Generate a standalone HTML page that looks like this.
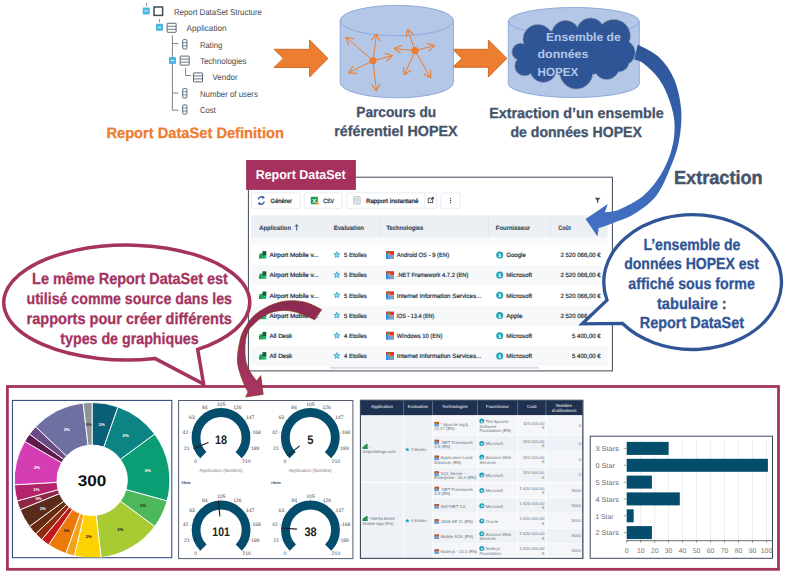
<!DOCTYPE html><html><head><meta charset="utf-8"><style>
html,body{margin:0;padding:0;background:#fff;}
body{width:785px;height:576px;overflow:hidden;position:relative;}
svg{position:absolute;left:0;top:0;font-family:"Liberation Sans",sans-serif;text-rendering:geometricPrecision;}
</style></head><body>
<svg width="785" height="576" viewBox="0 0 785 576">
<defs>
<linearGradient id="bluearr" x1="0" y1="44" x2="0" y2="236" gradientUnits="userSpaceOnUse">
<stop offset="0" stop-color="#2F5597"/><stop offset="0.55" stop-color="#3863B3"/><stop offset="1" stop-color="#4472C4"/></linearGradient>
<linearGradient id="marr" x1="0" y1="300" x2="0" y2="397" gradientUnits="userSpaceOnUse">
<stop offset="0" stop-color="#8C2A52"/><stop offset="1" stop-color="#A83562"/></linearGradient>
<linearGradient id="appg" x1="0" y1="0" x2="1" y2="0"><stop offset="0" stop-color="#129A36"/><stop offset="1" stop-color="#2FC29A"/></linearGradient>
</defs>

<line x1="146.5" y1="3" x2="146.5" y2="6" stroke="#6a7580" stroke-width="0.8"/>
<rect x="142.7" y="7.4" width="7" height="7" rx="1" fill="#4BB6E3"/>
<rect x="144.5" y="10.5" width="3.4" height="0.9" fill="#fff"/>
<rect x="154" y="7" width="8.6" height="8.4" fill="none" stroke="#3D4A57" stroke-width="1.5"/>
<line x1="159.5" y1="19" x2="159.5" y2="22.3" stroke="#6a7580" stroke-width="0.8"/>
<rect x="156" y="23.8" width="7" height="7" rx="1" fill="#4BB6E3"/>
<rect x="157.8" y="26.900000000000002" width="3.4" height="0.9" fill="#fff"/>
<rect x="167.1" y="23.3" width="9" height="9" rx="0.4" fill="none" stroke="#5B6B7B" stroke-width="1"/>
<line x1="167.1" y1="26.3" x2="176.1" y2="26.3" stroke="#5B6B7B" stroke-width="0.9"/>
<line x1="167.1" y1="29.3" x2="176.1" y2="29.3" stroke="#5B6B7B" stroke-width="0.9"/>
<path d="M172.4,35.3 V110.2 H178.3" fill="none" stroke="#6a7580" stroke-width="0.9"/>
<line x1="172.4" y1="43.6" x2="178.3" y2="43.6" stroke="#6a7580" stroke-width="0.9"/>
<line x1="172.4" y1="93" x2="178.3" y2="93" stroke="#6a7580" stroke-width="0.9"/>
<rect x="182.7" y="39.6" width="4.2" height="9.4" rx="1" fill="none" stroke="#5B6B7B" stroke-width="1"/>
<line x1="182.7" y1="42.730000000000004" x2="186.89999999999998" y2="42.730000000000004" stroke="#5B6B7B" stroke-width="0.8"/>
<line x1="182.7" y1="45.86" x2="186.89999999999998" y2="45.86" stroke="#5B6B7B" stroke-width="0.8"/>
<rect x="169" y="57.1" width="7" height="7" rx="1" fill="#4BB6E3"/>
<rect x="170.8" y="60.2" width="3.4" height="0.9" fill="#fff"/>
<rect x="180.2" y="56.1" width="9" height="9" rx="0.4" fill="none" stroke="#5B6B7B" stroke-width="1"/>
<line x1="180.2" y1="59.1" x2="189.2" y2="59.1" stroke="#5B6B7B" stroke-width="0.9"/>
<line x1="180.2" y1="62.1" x2="189.2" y2="62.1" stroke="#5B6B7B" stroke-width="0.9"/>
<path d="M185.6,68.2 V75.5 H190.8" fill="none" stroke="#6a7580" stroke-width="0.9"/>
<rect x="193.5" y="72.9" width="9" height="9" rx="0.4" fill="none" stroke="#5B6B7B" stroke-width="1"/>
<line x1="193.5" y1="75.9" x2="202.5" y2="75.9" stroke="#5B6B7B" stroke-width="0.9"/>
<line x1="193.5" y1="78.9" x2="202.5" y2="78.9" stroke="#5B6B7B" stroke-width="0.9"/>
<rect x="182.7" y="88.6" width="4.2" height="9.4" rx="1" fill="none" stroke="#5B6B7B" stroke-width="1"/>
<line x1="182.7" y1="91.72999999999999" x2="186.89999999999998" y2="91.72999999999999" stroke="#5B6B7B" stroke-width="0.8"/>
<line x1="182.7" y1="94.86" x2="186.89999999999998" y2="94.86" stroke="#5B6B7B" stroke-width="0.8"/>
<rect x="182.7" y="104.8" width="4.2" height="9.4" rx="1" fill="none" stroke="#5B6B7B" stroke-width="1"/>
<line x1="182.7" y1="107.92999999999999" x2="186.89999999999998" y2="107.92999999999999" stroke="#5B6B7B" stroke-width="0.8"/>
<line x1="182.7" y1="111.06" x2="186.89999999999998" y2="111.06" stroke="#5B6B7B" stroke-width="0.8"/>
<text x="173.9" y="14.5" font-size="8.5" fill="#45494f" font-weight="normal" text-anchor="start" textLength="88.0" lengthAdjust="spacingAndGlyphs">Report DataSet Structure</text>
<text x="186.6" y="30.6" font-size="8.5" fill="#45494f" font-weight="normal" text-anchor="start" textLength="40.0" lengthAdjust="spacingAndGlyphs">Application</text>
<text x="199.9" y="47.5" font-size="8.5" fill="#45494f" font-weight="normal" text-anchor="start" textLength="22.5" lengthAdjust="spacingAndGlyphs">Rating</text>
<text x="199.9" y="63.7" font-size="8.5" fill="#45494f" font-weight="normal" text-anchor="start" textLength="46.6" lengthAdjust="spacingAndGlyphs">Technologies</text>
<text x="212.5" y="80.2" font-size="8.5" fill="#45494f" font-weight="normal" text-anchor="start" textLength="25.2" lengthAdjust="spacingAndGlyphs">Vendor</text>
<text x="199.9" y="96.9" font-size="8.5" fill="#45494f" font-weight="normal" text-anchor="start" textLength="58.0" lengthAdjust="spacingAndGlyphs">Number of users</text>
<text x="199.9" y="113.1" font-size="8.5" fill="#45494f" font-weight="normal" text-anchor="start" textLength="15.8" lengthAdjust="spacingAndGlyphs">Cost</text>
<text x="106.4" y="138.0" font-size="15" fill="#ED7D31" font-weight="bold" text-anchor="start" textLength="177.6" lengthAdjust="spacingAndGlyphs" stroke="#ED7D31" stroke-width="0.3">Report DataSet Definition</text>
<path d="M274,49.3 L309.6,49.3 L309.6,40 L328,58.4 L309.6,77 L309.6,67.5 L274,67.5 L283.3,58.4 Z" fill="#ED7D31" stroke="#C55A11" stroke-width="0.8" stroke-linejoin="miter"/>
<path d="M452.7,49.3 L488.4,49.3 L488.4,40 L506.9,58.4 L488.4,77 L488.4,67.3 L452.7,67.3 L461.9,58.4 Z" fill="#ED7D31" stroke="#C55A11" stroke-width="0.8" stroke-linejoin="miter"/>
<path d="M340.2,20.6 A56.6,15.2 0 0 1 453.40000000000003,20.6 L453.40000000000003,82.6 A56.6,15.2 0 0 1 340.2,82.6 Z" fill="#B4C7E7" stroke="#8FAADC" stroke-width="1"/>
<path d="M340.2,20.6 A56.6,15.2 0 0 0 453.40000000000003,20.6" fill="none" stroke="#8FAADC" stroke-width="1"/>
<path d="M508.29999999999995,21.3 A65.5,13.8 0 0 1 639.3,21.3 L639.3,83.7 A65.5,13.8 0 0 1 508.29999999999995,83.7 Z" fill="#B4C7E7" stroke="#8FAADC" stroke-width="1"/>
<path d="M508.29999999999995,21.3 A65.5,13.8 0 0 0 639.3,21.3" fill="none" stroke="#8FAADC" stroke-width="1"/>
<circle cx="373" cy="60.7" r="3.6" fill="#ED7D31"/>
<line x1="373" y1="60.7" x2="346" y2="37.3" stroke="#ED7D31" stroke-width="1.0"/>
<line x1="346" y1="37.3" x2="353.9" y2="38.8" stroke="#ED7D31" stroke-width="1.1"/>
<line x1="346" y1="37.3" x2="348.6" y2="44.9" stroke="#ED7D31" stroke-width="1.1"/>
<line x1="373" y1="60.7" x2="376.5" y2="33.8" stroke="#ED7D31" stroke-width="1.0"/>
<line x1="376.5" y1="33.8" x2="379.6" y2="41.2" stroke="#ED7D31" stroke-width="1.1"/>
<line x1="376.5" y1="33.8" x2="371.7" y2="40.2" stroke="#ED7D31" stroke-width="1.1"/>
<line x1="373" y1="60.7" x2="392.5" y2="55.5" stroke="#ED7D31" stroke-width="1.0"/>
<line x1="392.5" y1="55.5" x2="386.8" y2="61.1" stroke="#ED7D31" stroke-width="1.1"/>
<line x1="392.5" y1="55.5" x2="384.8" y2="53.4" stroke="#ED7D31" stroke-width="1.1"/>
<line x1="373" y1="60.7" x2="348.7" y2="72.9" stroke="#ED7D31" stroke-width="1.0"/>
<line x1="348.7" y1="72.9" x2="353.1" y2="66.2" stroke="#ED7D31" stroke-width="1.1"/>
<line x1="348.7" y1="72.9" x2="356.7" y2="73.4" stroke="#ED7D31" stroke-width="1.1"/>
<line x1="373" y1="60.7" x2="376.5" y2="91.1" stroke="#ED7D31" stroke-width="1.0"/>
<line x1="376.5" y1="91.1" x2="371.7" y2="84.7" stroke="#ED7D31" stroke-width="1.1"/>
<line x1="376.5" y1="91.1" x2="379.7" y2="83.8" stroke="#ED7D31" stroke-width="1.1"/>
<circle cx="415" cy="50.7" r="3.6" fill="#ED7D31"/>
<line x1="415" y1="50.7" x2="407.6" y2="29.2" stroke="#ED7D31" stroke-width="1.0"/>
<line x1="407.6" y1="29.2" x2="413.6" y2="34.5" stroke="#ED7D31" stroke-width="1.1"/>
<line x1="407.6" y1="29.2" x2="406.1" y2="37.1" stroke="#ED7D31" stroke-width="1.1"/>
<line x1="415" y1="50.7" x2="394.2" y2="48.6" stroke="#ED7D31" stroke-width="1.0"/>
<line x1="394.2" y1="48.6" x2="401.5" y2="45.3" stroke="#ED7D31" stroke-width="1.1"/>
<line x1="394.2" y1="48.6" x2="400.7" y2="53.3" stroke="#ED7D31" stroke-width="1.1"/>
<line x1="415" y1="50.7" x2="434.6" y2="45.5" stroke="#ED7D31" stroke-width="1.0"/>
<line x1="434.6" y1="45.5" x2="428.9" y2="51.1" stroke="#ED7D31" stroke-width="1.1"/>
<line x1="434.6" y1="45.5" x2="426.9" y2="43.4" stroke="#ED7D31" stroke-width="1.1"/>
<line x1="415" y1="50.7" x2="404.3" y2="75" stroke="#ED7D31" stroke-width="1.0"/>
<line x1="404.3" y1="75" x2="403.4" y2="67.0" stroke="#ED7D31" stroke-width="1.1"/>
<line x1="404.3" y1="75" x2="410.7" y2="70.3" stroke="#ED7D31" stroke-width="1.1"/>
<line x1="415" y1="50.7" x2="430.7" y2="78.1" stroke="#ED7D31" stroke-width="1.0"/>
<line x1="430.7" y1="78.1" x2="423.8" y2="74.1" stroke="#ED7D31" stroke-width="1.1"/>
<line x1="430.7" y1="78.1" x2="430.7" y2="70.1" stroke="#ED7D31" stroke-width="1.1"/>
<ellipse cx="575" cy="52" rx="50" ry="24" fill="#2F5597" stroke="#8d9bb3" stroke-width="1"/>
<ellipse cx="538" cy="39.4" rx="15" ry="15" fill="#2F5597" stroke="#8d9bb3" stroke-width="1"/>
<ellipse cx="565.6" cy="34.5" rx="14" ry="14" fill="#2F5597" stroke="#8d9bb3" stroke-width="1"/>
<ellipse cx="590.6" cy="32" rx="14" ry="14" fill="#2F5597" stroke="#8d9bb3" stroke-width="1"/>
<ellipse cx="613.8" cy="36" rx="16.5" ry="16.5" fill="#2F5597" stroke="#8d9bb3" stroke-width="1"/>
<ellipse cx="622.7" cy="52.8" rx="12.5" ry="12.5" fill="#2F5597" stroke="#8d9bb3" stroke-width="1"/>
<ellipse cx="618" cy="62" rx="11" ry="10" fill="#2F5597" stroke="#8d9bb3" stroke-width="1"/>
<ellipse cx="606.7" cy="67" rx="12.5" ry="12.5" fill="#2F5597" stroke="#8d9bb3" stroke-width="1"/>
<ellipse cx="576.3" cy="72.4" rx="16.5" ry="16.5" fill="#2F5597" stroke="#8d9bb3" stroke-width="1"/>
<ellipse cx="543.3" cy="68.9" rx="13.4" ry="13.4" fill="#2F5597" stroke="#8d9bb3" stroke-width="1"/>
<ellipse cx="524.6" cy="66" rx="9.8" ry="9.8" fill="#2F5597" stroke="#8d9bb3" stroke-width="1"/>
<ellipse cx="520.6" cy="51.9" rx="8.6" ry="8.6" fill="#2F5597" stroke="#8d9bb3" stroke-width="1"/>
<ellipse cx="575" cy="52" rx="49.5" ry="23.5" fill="#2F5597"/>
<ellipse cx="538" cy="39.4" rx="14.5" ry="14.5" fill="#2F5597"/>
<ellipse cx="565.6" cy="34.5" rx="13.5" ry="13.5" fill="#2F5597"/>
<ellipse cx="590.6" cy="32" rx="13.5" ry="13.5" fill="#2F5597"/>
<ellipse cx="613.8" cy="36" rx="16.0" ry="16.0" fill="#2F5597"/>
<ellipse cx="622.7" cy="52.8" rx="12.0" ry="12.0" fill="#2F5597"/>
<ellipse cx="618" cy="62" rx="10.5" ry="9.5" fill="#2F5597"/>
<ellipse cx="606.7" cy="67" rx="12.0" ry="12.0" fill="#2F5597"/>
<ellipse cx="576.3" cy="72.4" rx="16.0" ry="16.0" fill="#2F5597"/>
<ellipse cx="543.3" cy="68.9" rx="12.9" ry="12.9" fill="#2F5597"/>
<ellipse cx="524.6" cy="66" rx="9.3" ry="9.3" fill="#2F5597"/>
<ellipse cx="520.6" cy="51.9" rx="8.1" ry="8.1" fill="#2F5597"/>
<text x="545.9" y="41.1" font-size="11.8" fill="#B4C7E7" font-weight="bold" text-anchor="start" textLength="74.9" lengthAdjust="spacingAndGlyphs">Ensemble de</text>
<text x="537.6" y="58.3" font-size="11.8" fill="#B4C7E7" font-weight="bold" text-anchor="start" textLength="50.7" lengthAdjust="spacingAndGlyphs">données</text>
<text x="537.6" y="75.5" font-size="11.8" fill="#B4C7E7" font-weight="bold" text-anchor="start" textLength="40.7" lengthAdjust="spacingAndGlyphs">HOPEX</text>
<text x="356.3" y="116.8" font-size="14.6" fill="#44546A" font-weight="bold" text-anchor="start" textLength="79.9" lengthAdjust="spacingAndGlyphs" stroke="#44546A" stroke-width="0.3">Parcours du</text>
<text x="334.3" y="136.4" font-size="14.6" fill="#44546A" font-weight="bold" text-anchor="start" textLength="123.3" lengthAdjust="spacingAndGlyphs" stroke="#44546A" stroke-width="0.3">référentiel HOPEX</text>
<text x="489.2" y="117.6" font-size="14.6" fill="#44546A" font-weight="bold" text-anchor="start" textLength="174.5" lengthAdjust="spacingAndGlyphs" stroke="#44546A" stroke-width="0.3">Extraction d’un ensemble</text>
<text x="510.5" y="137.2" font-size="14.6" fill="#44546A" font-weight="bold" text-anchor="start" textLength="131.3" lengthAdjust="spacingAndGlyphs" stroke="#44546A" stroke-width="0.3">de données HOPEX</text>
<text x="674.0" y="183.6" font-size="19" fill="#44546A" font-weight="bold" text-anchor="start" textLength="88.7" lengthAdjust="spacingAndGlyphs" stroke="#44546A" stroke-width="0.45">Extraction</text>
<rect x="248.4" y="177.2" width="364" height="193.7" fill="#fff" stroke="#3F4A57" stroke-width="1"/>
<rect x="246.1" y="160" width="109.8" height="29.9" fill="#A6315E"/>
<text x="255.7" y="179.3" font-size="12.9" fill="#fff" font-weight="bold" text-anchor="start" textLength="90.0" lengthAdjust="spacingAndGlyphs">Report DataSet</text>
<rect x="251.5" y="192.8" width="48.89999999999998" height="15.5" rx="2" fill="#fff" stroke="#E2E7F0" stroke-width="0.8"/>
<rect x="304.2" y="192.8" width="37.900000000000034" height="15.5" rx="2" fill="#fff" stroke="#E2E7F0" stroke-width="0.8"/>
<rect x="346.6" y="192.8" width="90.09999999999997" height="15.5" rx="2" fill="#fff" stroke="#E2E7F0" stroke-width="0.8"/>
<rect x="440.8" y="192.8" width="19.599999999999966" height="15.5" rx="2" fill="#fff" stroke="#E2E7F0" stroke-width="0.8"/>
<line x1="424.7" y1="192.8" x2="424.7" y2="208.3" stroke="#E2E7F0" stroke-width="0.8"/>
<path d="M258.3,199.5 C258.8,196.8 262,196 263.8,197.6" fill="none" stroke="#2A4FA8" stroke-width="1.3"/><path d="M264.3,201.5 C263.8,204.2 260.6,205 258.8,203.4" fill="none" stroke="#2A4FA8" stroke-width="1.3"/>
<path d="M262.6,196.2 L265,197.8 L262.4,199 Z" fill="#2A4FA8"/><path d="M260,204.8 L257.6,203.2 L260.2,202 Z" fill="#2A4FA8"/>
<text x="270.6" y="202.6" font-size="6.2" fill="#1F2A36" font-weight="normal" text-anchor="start" textLength="21.4" lengthAdjust="spacingAndGlyphs" stroke="#1F2A36" stroke-width="0.25">Générer</text>
<rect x="310.8" y="196.8" width="7" height="7.5" rx="0.8" fill="#1E9E4A"/><text x="312.3" y="202.9" font-size="6" fill="#fff" font-weight="bold">X</text><rect x="316" y="202" width="2.6" height="2.6" fill="#F2A33A"/>
<text x="323.3" y="202.6" font-size="6.2" fill="#1F2A36" font-weight="normal" text-anchor="start" textLength="10.7" lengthAdjust="spacingAndGlyphs" stroke="#1F2A36" stroke-width="0.25">CSV</text>
<rect x="353.6" y="196.6" width="6.6" height="7.6" rx="0.8" fill="#E8EAEE" stroke="#A9B0B8" stroke-width="0.7"/><line x1="355" y1="199" x2="359" y2="199" stroke="#9aa" stroke-width="0.5"/><line x1="355" y1="201" x2="359" y2="201" stroke="#9aa" stroke-width="0.5"/>
<text x="365.9" y="202.6" font-size="6.2" fill="#1F2A36" font-weight="normal" text-anchor="start" textLength="52.6" lengthAdjust="spacingAndGlyphs" stroke="#1F2A36" stroke-width="0.25">Rapport instantané</text>
<rect x="428.2" y="198.2" width="4.5" height="4.5" fill="none" stroke="#333d48" stroke-width="0.8"/><path d="M430.5,200.4 L433.5,197.4 M431.8,197.4 H433.5 V199.1" stroke="#333d48" stroke-width="0.8" fill="none"/>
<circle cx="450.6" cy="198.3" r="0.65" fill="#333d48"/>
<circle cx="450.6" cy="200.5" r="0.65" fill="#333d48"/>
<circle cx="450.6" cy="202.7" r="0.65" fill="#333d48"/>
<path d="M594.8,197.8 H600.4 L598.3,200.6 V203 L596.9,202.3 V200.6 Z" fill="#4a545e"/>
<rect x="251.2" y="215.3" width="356.3" height="22.3" fill="#ECEFF3"/>
<line x1="379.6" y1="215.3" x2="379.6" y2="237.6" stroke="#E1E5EA" stroke-width="1"/>
<line x1="488.7" y1="215.3" x2="488.7" y2="237.6" stroke="#E1E5EA" stroke-width="1"/>
<line x1="550.4" y1="215.3" x2="550.4" y2="237.6" stroke="#E1E5EA" stroke-width="1"/>
<rect x="251.2" y="237.6" width="356.3" height="7.2" fill="#F8F9FB"/>
<text x="259.3" y="229.6" font-size="6.3" fill="#3A4654" font-weight="bold" text-anchor="start" textLength="31.7" lengthAdjust="spacingAndGlyphs" stroke="#3A4654" stroke-width="0.12">Application</text>
<path d="M296.7,224.8 V230.6 M295,226.6 L296.7,224.6 L298.4,226.6" stroke="#3A4654" stroke-width="0.9" fill="none"/>
<text x="333.8" y="229.6" font-size="6.3" fill="#3A4654" font-weight="bold" text-anchor="start" textLength="30.2" lengthAdjust="spacingAndGlyphs" stroke="#3A4654" stroke-width="0.12">Evaluation</text>
<text x="386.4" y="229.6" font-size="6.3" fill="#3A4654" font-weight="bold" text-anchor="start" textLength="36.9" lengthAdjust="spacingAndGlyphs" stroke="#3A4654" stroke-width="0.12">Technologies</text>
<text x="495.8" y="229.6" font-size="6.3" fill="#3A4654" font-weight="bold" text-anchor="start" textLength="34.3" lengthAdjust="spacingAndGlyphs" stroke="#3A4654" stroke-width="0.12">Fournisseur</text>
<text x="558.3" y="229.6" font-size="6.3" fill="#3A4654" font-weight="bold" text-anchor="start" textLength="12.4" lengthAdjust="spacingAndGlyphs" stroke="#3A4654" stroke-width="0.12">Coût</text>
<rect x="259" y="255.1" width="7.3" height="3.5" fill="url(#appg)"/><rect x="259.6" y="253.4" width="3.2" height="2" fill="#16A04A"/><rect x="262.5" y="251.1" width="3.8" height="4.3" fill="#0F5F3C"/>
<text x="269.6" y="257.2" font-size="6.2" fill="#2B3440" font-weight="normal" text-anchor="start" textLength="48.9" lengthAdjust="spacingAndGlyphs" stroke="#2B3440" stroke-width="0.24">Airport Mobile v...</text>
<polygon points="336.90,251.60 337.72,253.67 339.94,253.81 338.23,255.23 338.78,257.39 336.90,256.20 335.02,257.39 335.57,255.23 333.86,253.81 336.08,253.67" fill="#9ad9ee" stroke="#1E9BC4" stroke-width="0.7"/>
<text x="344.0" y="257.2" font-size="6.2" fill="#2E3A48" font-weight="normal" text-anchor="start" textLength="22.8" lengthAdjust="spacingAndGlyphs" stroke="#2E3A48" stroke-width="0.22">5 Etoiles</text>
<rect x="386" y="251.0" width="8" height="3.9" fill="#F03030"/><rect x="388.3" y="251.0" width="1.9" height="2.1" fill="#1DA83A"/><rect x="388.3" y="253.1" width="1.9" height="1.9" fill="#F2A900"/><rect x="386" y="253.1" width="2.3" height="5.9" fill="#2F8EF0"/><rect x="388.3" y="255.0" width="1.9" height="4" fill="#3A95F2"/><rect x="390.2" y="255.0" width="3.8" height="4" fill="#7E9CBA"/>
<text x="396.8" y="257.2" font-size="6.2" fill="#2E3A48" font-weight="normal" text-anchor="start" textLength="52.3" lengthAdjust="spacingAndGlyphs" stroke="#2E3A48" stroke-width="0.22">Android OS - 9 (EN)</text>
<circle cx="499.7" cy="254.9" r="3.5" fill="#1AA3B8"/><text x="499.7" y="256.9" font-size="5" fill="#fff" font-weight="bold" text-anchor="middle">$</text>
<text x="506.3" y="257.2" font-size="6.2" fill="#2E3A48" font-weight="normal" text-anchor="start" textLength="19.5" lengthAdjust="spacingAndGlyphs" stroke="#2E3A48" stroke-width="0.22">Google</text>
<text x="600.7" y="257.2" font-size="6.2" fill="#2E3A48" font-weight="normal" text-anchor="end" textLength="40.3" lengthAdjust="spacingAndGlyphs" stroke="#2E3A48" stroke-width="0.22">2 520 066,00 €</text>
<rect x="251.2" y="265.0" width="356.3" height="20.2" fill="#F7F8FA"/>
<rect x="259" y="275.3" width="7.3" height="3.5" fill="url(#appg)"/><rect x="259.6" y="273.6" width="3.2" height="2" fill="#16A04A"/><rect x="262.5" y="271.3" width="3.8" height="4.3" fill="#0F5F3C"/>
<text x="269.6" y="277.4" font-size="6.2" fill="#2B3440" font-weight="normal" text-anchor="start" textLength="48.9" lengthAdjust="spacingAndGlyphs" stroke="#2B3440" stroke-width="0.24">Airport Mobile v...</text>
<polygon points="336.90,271.80 337.72,273.87 339.94,274.01 338.23,275.43 338.78,277.59 336.90,276.40 335.02,277.59 335.57,275.43 333.86,274.01 336.08,273.87" fill="#9ad9ee" stroke="#1E9BC4" stroke-width="0.7"/>
<text x="344.0" y="277.4" font-size="6.2" fill="#2E3A48" font-weight="normal" text-anchor="start" textLength="22.8" lengthAdjust="spacingAndGlyphs" stroke="#2E3A48" stroke-width="0.22">5 Etoiles</text>
<rect x="386" y="271.2" width="8" height="3.9" fill="#F03030"/><rect x="388.3" y="271.2" width="1.9" height="2.1" fill="#1DA83A"/><rect x="388.3" y="273.3" width="1.9" height="1.9" fill="#F2A900"/><rect x="386" y="273.3" width="2.3" height="5.9" fill="#2F8EF0"/><rect x="388.3" y="275.2" width="1.9" height="4" fill="#3A95F2"/><rect x="390.2" y="275.2" width="3.8" height="4" fill="#7E9CBA"/>
<text x="396.8" y="277.4" font-size="6.2" fill="#2E3A48" font-weight="normal" text-anchor="start" textLength="71.6" lengthAdjust="spacingAndGlyphs" stroke="#2E3A48" stroke-width="0.22">.NET Framework 4.7.2 (EN)</text>
<circle cx="499.7" cy="275.1" r="3.5" fill="#1AA3B8"/><text x="499.7" y="277.1" font-size="5" fill="#fff" font-weight="bold" text-anchor="middle">$</text>
<text x="506.3" y="277.4" font-size="6.2" fill="#2E3A48" font-weight="normal" text-anchor="start" textLength="25.7" lengthAdjust="spacingAndGlyphs" stroke="#2E3A48" stroke-width="0.22">Microsoft</text>
<text x="600.7" y="277.4" font-size="6.2" fill="#2E3A48" font-weight="normal" text-anchor="end" textLength="40.3" lengthAdjust="spacingAndGlyphs" stroke="#2E3A48" stroke-width="0.22">2 520 066,00 €</text>
<rect x="259" y="295.5" width="7.3" height="3.5" fill="url(#appg)"/><rect x="259.6" y="293.8" width="3.2" height="2" fill="#16A04A"/><rect x="262.5" y="291.5" width="3.8" height="4.3" fill="#0F5F3C"/>
<text x="269.6" y="297.6" font-size="6.2" fill="#2B3440" font-weight="normal" text-anchor="start" textLength="48.9" lengthAdjust="spacingAndGlyphs" stroke="#2B3440" stroke-width="0.24">Airport Mobile v...</text>
<polygon points="336.90,292.00 337.72,294.07 339.94,294.21 338.23,295.63 338.78,297.79 336.90,296.60 335.02,297.79 335.57,295.63 333.86,294.21 336.08,294.07" fill="#9ad9ee" stroke="#1E9BC4" stroke-width="0.7"/>
<text x="344.0" y="297.6" font-size="6.2" fill="#2E3A48" font-weight="normal" text-anchor="start" textLength="22.8" lengthAdjust="spacingAndGlyphs" stroke="#2E3A48" stroke-width="0.22">5 Etoiles</text>
<rect x="386" y="291.4" width="8" height="3.9" fill="#F03030"/><rect x="388.3" y="291.4" width="1.9" height="2.1" fill="#1DA83A"/><rect x="388.3" y="293.5" width="1.9" height="1.9" fill="#F2A900"/><rect x="386" y="293.5" width="2.3" height="5.9" fill="#2F8EF0"/><rect x="388.3" y="295.4" width="1.9" height="4" fill="#3A95F2"/><rect x="390.2" y="295.4" width="3.8" height="4" fill="#7E9CBA"/>
<text x="396.8" y="297.6" font-size="6.2" fill="#2E3A48" font-weight="normal" text-anchor="start" textLength="84.4" lengthAdjust="spacingAndGlyphs" stroke="#2E3A48" stroke-width="0.22">Internet Information Services...</text>
<circle cx="499.7" cy="295.3" r="3.5" fill="#1AA3B8"/><text x="499.7" y="297.3" font-size="5" fill="#fff" font-weight="bold" text-anchor="middle">$</text>
<text x="506.3" y="297.6" font-size="6.2" fill="#2E3A48" font-weight="normal" text-anchor="start" textLength="25.7" lengthAdjust="spacingAndGlyphs" stroke="#2E3A48" stroke-width="0.22">Microsoft</text>
<text x="600.7" y="297.6" font-size="6.2" fill="#2E3A48" font-weight="normal" text-anchor="end" textLength="40.3" lengthAdjust="spacingAndGlyphs" stroke="#2E3A48" stroke-width="0.22">2 520 066,00 €</text>
<rect x="251.2" y="305.4" width="356.3" height="20.2" fill="#F7F8FA"/>
<rect x="259" y="315.7" width="7.3" height="3.5" fill="url(#appg)"/><rect x="259.6" y="314.0" width="3.2" height="2" fill="#16A04A"/><rect x="262.5" y="311.7" width="3.8" height="4.3" fill="#0F5F3C"/>
<text x="269.6" y="317.8" font-size="6.2" fill="#2B3440" font-weight="normal" text-anchor="start" textLength="48.9" lengthAdjust="spacingAndGlyphs" stroke="#2B3440" stroke-width="0.24">Airport Mobile v...</text>
<polygon points="336.90,312.20 337.72,314.27 339.94,314.41 338.23,315.83 338.78,317.99 336.90,316.80 335.02,317.99 335.57,315.83 333.86,314.41 336.08,314.27" fill="#9ad9ee" stroke="#1E9BC4" stroke-width="0.7"/>
<text x="344.0" y="317.8" font-size="6.2" fill="#2E3A48" font-weight="normal" text-anchor="start" textLength="22.8" lengthAdjust="spacingAndGlyphs" stroke="#2E3A48" stroke-width="0.22">5 Etoiles</text>
<rect x="386" y="311.6" width="8" height="3.9" fill="#F03030"/><rect x="388.3" y="311.6" width="1.9" height="2.1" fill="#1DA83A"/><rect x="388.3" y="313.7" width="1.9" height="1.9" fill="#F2A900"/><rect x="386" y="313.7" width="2.3" height="5.9" fill="#2F8EF0"/><rect x="388.3" y="315.6" width="1.9" height="4" fill="#3A95F2"/><rect x="390.2" y="315.6" width="3.8" height="4" fill="#7E9CBA"/>
<text x="396.8" y="317.8" font-size="6.2" fill="#2E3A48" font-weight="normal" text-anchor="start" textLength="37.6" lengthAdjust="spacingAndGlyphs" stroke="#2E3A48" stroke-width="0.22">iOS - 13.4 (EN)</text>
<circle cx="499.7" cy="315.5" r="3.5" fill="#1AA3B8"/><text x="499.7" y="317.5" font-size="5" fill="#fff" font-weight="bold" text-anchor="middle">$</text>
<text x="506.3" y="317.8" font-size="6.2" fill="#2E3A48" font-weight="normal" text-anchor="start" textLength="16.2" lengthAdjust="spacingAndGlyphs" stroke="#2E3A48" stroke-width="0.22">Apple</text>
<text x="600.7" y="317.8" font-size="6.2" fill="#2E3A48" font-weight="normal" text-anchor="end" textLength="40.3" lengthAdjust="spacingAndGlyphs" stroke="#2E3A48" stroke-width="0.22">2 520 066,00 €</text>
<rect x="259" y="335.9" width="7.3" height="3.5" fill="url(#appg)"/><rect x="259.6" y="334.2" width="3.2" height="2" fill="#16A04A"/><rect x="262.5" y="331.9" width="3.8" height="4.3" fill="#0F5F3C"/>
<text x="269.6" y="338.0" font-size="6.2" fill="#2B3440" font-weight="normal" text-anchor="start" textLength="22.6" lengthAdjust="spacingAndGlyphs" stroke="#2B3440" stroke-width="0.24">All Desk</text>
<polygon points="336.90,332.40 337.72,334.47 339.94,334.61 338.23,336.03 338.78,338.19 336.90,337.00 335.02,338.19 335.57,336.03 333.86,334.61 336.08,334.47" fill="#9ad9ee" stroke="#1E9BC4" stroke-width="0.7"/>
<text x="344.0" y="338.0" font-size="6.2" fill="#2E3A48" font-weight="normal" text-anchor="start" textLength="22.8" lengthAdjust="spacingAndGlyphs" stroke="#2E3A48" stroke-width="0.22">4 Etoiles</text>
<rect x="386" y="331.8" width="8" height="3.9" fill="#F03030"/><rect x="388.3" y="331.8" width="1.9" height="2.1" fill="#1DA83A"/><rect x="388.3" y="333.9" width="1.9" height="1.9" fill="#F2A900"/><rect x="386" y="333.9" width="2.3" height="5.9" fill="#2F8EF0"/><rect x="388.3" y="335.8" width="1.9" height="4" fill="#3A95F2"/><rect x="390.2" y="335.8" width="3.8" height="4" fill="#7E9CBA"/>
<text x="396.8" y="338.0" font-size="6.2" fill="#2E3A48" font-weight="normal" text-anchor="start" textLength="45.6" lengthAdjust="spacingAndGlyphs" stroke="#2E3A48" stroke-width="0.22">Windows 10 (EN)</text>
<circle cx="499.7" cy="335.7" r="3.5" fill="#1AA3B8"/><text x="499.7" y="337.7" font-size="5" fill="#fff" font-weight="bold" text-anchor="middle">$</text>
<text x="506.3" y="338.0" font-size="6.2" fill="#2E3A48" font-weight="normal" text-anchor="start" textLength="25.7" lengthAdjust="spacingAndGlyphs" stroke="#2E3A48" stroke-width="0.22">Microsoft</text>
<text x="600.7" y="338.0" font-size="6.2" fill="#2E3A48" font-weight="normal" text-anchor="end" textLength="28.7" lengthAdjust="spacingAndGlyphs" stroke="#2E3A48" stroke-width="0.22">5 400,00 €</text>
<rect x="251.2" y="345.8" width="356.3" height="20.2" fill="#F7F8FA"/>
<rect x="259" y="356.1" width="7.3" height="3.5" fill="url(#appg)"/><rect x="259.6" y="354.4" width="3.2" height="2" fill="#16A04A"/><rect x="262.5" y="352.1" width="3.8" height="4.3" fill="#0F5F3C"/>
<text x="269.6" y="358.2" font-size="6.2" fill="#2B3440" font-weight="normal" text-anchor="start" textLength="22.6" lengthAdjust="spacingAndGlyphs" stroke="#2B3440" stroke-width="0.24">All Desk</text>
<polygon points="336.90,352.60 337.72,354.67 339.94,354.81 338.23,356.23 338.78,358.39 336.90,357.20 335.02,358.39 335.57,356.23 333.86,354.81 336.08,354.67" fill="#9ad9ee" stroke="#1E9BC4" stroke-width="0.7"/>
<text x="344.0" y="358.2" font-size="6.2" fill="#2E3A48" font-weight="normal" text-anchor="start" textLength="22.8" lengthAdjust="spacingAndGlyphs" stroke="#2E3A48" stroke-width="0.22">4 Etoiles</text>
<rect x="386" y="352.0" width="8" height="3.9" fill="#F03030"/><rect x="388.3" y="352.0" width="1.9" height="2.1" fill="#1DA83A"/><rect x="388.3" y="354.1" width="1.9" height="1.9" fill="#F2A900"/><rect x="386" y="354.1" width="2.3" height="5.9" fill="#2F8EF0"/><rect x="388.3" y="356.0" width="1.9" height="4" fill="#3A95F2"/><rect x="390.2" y="356.0" width="3.8" height="4" fill="#7E9CBA"/>
<text x="396.8" y="358.2" font-size="6.2" fill="#2E3A48" font-weight="normal" text-anchor="start" textLength="84.4" lengthAdjust="spacingAndGlyphs" stroke="#2E3A48" stroke-width="0.22">Internet Information Services...</text>
<circle cx="499.7" cy="355.9" r="3.5" fill="#1AA3B8"/><text x="499.7" y="357.9" font-size="5" fill="#fff" font-weight="bold" text-anchor="middle">$</text>
<text x="506.3" y="358.2" font-size="6.2" fill="#2E3A48" font-weight="normal" text-anchor="start" textLength="25.7" lengthAdjust="spacingAndGlyphs" stroke="#2E3A48" stroke-width="0.22">Microsoft</text>
<text x="600.7" y="358.2" font-size="6.2" fill="#2E3A48" font-weight="normal" text-anchor="end" textLength="28.7" lengthAdjust="spacingAndGlyphs" stroke="#2E3A48" stroke-width="0.22">5 400,00 €</text>
<rect x="330" y="366.8" width="209" height="2" rx="1" fill="#D8DCE2"/>
<path d="M637.8,44.5 C641.4,46.7 653.5,51.9 659.6,57.8 C665.7,63.7 670.9,71.3 674.5,80.0 C678.1,88.7 680.4,100.0 681.2,110.0 C682.0,120.0 680.8,130.8 679.2,140.0 C677.6,149.2 675.3,155.8 671.5,165.0 C667.7,174.2 662.7,187.4 656.5,195.5 C650.3,203.6 641.9,209.1 634.5,213.8 C627.1,218.5 618.0,221.1 612.0,223.5 C606.0,225.9 600.8,227.4 598.6,228.2 L597.5,236.6 L585.6,219 L607.8,203.9 L604.9,212.2 C607.3,211.7 612.8,212.2 619.3,209.4 C625.8,206.6 636.7,201.2 643.6,195.4 C650.5,189.6 656.1,182.3 660.7,174.7 C665.4,167.1 669.2,158.3 671.5,150.0 C673.8,141.7 674.9,133.0 674.6,125.0 C674.4,117.0 672.5,109.5 670.0,102.0 C667.5,94.5 664.0,86.4 659.6,80.0 C655.2,73.6 647.8,67.0 643.6,63.6 C639.4,60.2 635.9,60.3 634.4,59.6 Z" fill="url(#bluearr)"/>
<path d="M607,300.1 A88.85,67.4 0 1 1 622.3,323.3 L582.2,323.8 Z" fill="#fff" stroke="#2F5597" stroke-width="3.3" stroke-miterlimit="10"/>
<text x="643.4" y="249.7" font-size="16" fill="#2F5597" font-weight="bold" text-anchor="start" textLength="97.0" lengthAdjust="spacingAndGlyphs" stroke="#2F5597" stroke-width="0.3">L’ensemble de</text>
<text x="624.2" y="268.9" font-size="16" fill="#2F5597" font-weight="bold" text-anchor="start" textLength="134.8" lengthAdjust="spacingAndGlyphs" stroke="#2F5597" stroke-width="0.3">données HOPEX est</text>
<text x="628.3" y="288.9" font-size="16" fill="#2F5597" font-weight="bold" text-anchor="start" textLength="126.6" lengthAdjust="spacingAndGlyphs" stroke="#2F5597" stroke-width="0.3">affiché sous forme</text>
<text x="657.0" y="308.6" font-size="16" fill="#2F5597" font-weight="bold" text-anchor="start" textLength="69.7" lengthAdjust="spacingAndGlyphs" stroke="#2F5597" stroke-width="0.3">tabulaire :</text>
<text x="639.8" y="328.3" font-size="16" fill="#2F5597" font-weight="bold" text-anchor="start" textLength="104.2" lengthAdjust="spacingAndGlyphs" stroke="#2F5597" stroke-width="0.3">Report DataSet</text>
<path d="M197.7,349.4 A123.0,57.4 0 1 0 154.8,358.4 L203.6,384 Z" fill="#fff" stroke="#A5335F" stroke-width="3.5" stroke-miterlimit="10"/>
<text x="32.1" y="284.3" font-size="16" fill="#A5335F" font-weight="bold" text-anchor="start" textLength="195.8" lengthAdjust="spacingAndGlyphs" stroke="#A5335F" stroke-width="0.3">Le même Report DataSet est</text>
<text x="26.5" y="304.1" font-size="16" fill="#A5335F" font-weight="bold" text-anchor="start" textLength="205.4" lengthAdjust="spacingAndGlyphs" stroke="#A5335F" stroke-width="0.3">utilisé comme source dans les</text>
<text x="26.5" y="323.8" font-size="16" fill="#A5335F" font-weight="bold" text-anchor="start" textLength="205.4" lengthAdjust="spacingAndGlyphs" stroke="#A5335F" stroke-width="0.3">rapports pour créer différents</text>
<text x="60.3" y="343.5" font-size="16" fill="#A5335F" font-weight="bold" text-anchor="start" textLength="138.4" lengthAdjust="spacingAndGlyphs" stroke="#A5335F" stroke-width="0.3">types de graphiques</text>
<rect x="7.4" y="386.5" width="771.1" height="182.8" fill="none" stroke="#A5335F" stroke-width="2.8"/>
<rect x="12.4" y="400.4" width="159.4" height="157.3" fill="#fff" stroke="#26407A" stroke-width="1"/>
<rect x="178.6" y="400.5" width="174.3" height="158.1" fill="#fff" stroke="#4F5B6B" stroke-width="1"/>
<rect x="360.4" y="400.3" width="222.4" height="158" fill="#fff" stroke="#3D4A5E" stroke-width="1"/>
<rect x="590.2" y="436.2" width="182.3" height="122.1" fill="#fff" stroke="#3D4A5E" stroke-width="1"/>
<clipPath id="dclip"><rect x="12.9" y="400.9" width="158.4" height="156.3"/></clipPath>
<g clip-path="url(#dclip)">
<path d="M92.10,402.50 A77.8,77.8 0 0 1 118.07,406.96 L103.85,447.12 A35.2,35.2 0 0 0 92.10,445.10 Z" fill="#0A5F78" stroke="#fff" stroke-width="0.9"/>
<text x="101.7" y="426.2" font-size="4.3" fill="#fff" font-weight="bold" text-anchor="middle">1%</text>
<path d="M118.07,406.96 A77.8,77.8 0 0 1 154.72,434.13 L120.43,459.41 A35.2,35.2 0 0 0 103.85,447.12 Z" fill="#0D8484" stroke="#fff" stroke-width="0.9"/>
<text x="125.7" y="436.5" font-size="4.3" fill="#fff" font-weight="bold" text-anchor="middle">2%</text>
<path d="M154.72,434.13 A77.8,77.8 0 0 1 167.11,500.96 L126.04,489.65 A35.2,35.2 0 0 0 120.43,459.41 Z" fill="#0B9E74" stroke="#fff" stroke-width="0.9"/>
<text x="147.7" y="471.6" font-size="4.3" fill="#fff" font-weight="bold" text-anchor="middle">3%</text>
<path d="M167.11,500.96 A77.8,77.8 0 0 1 154.72,526.47 L120.43,501.19 A35.2,35.2 0 0 0 126.04,489.65 Z" fill="#4DB85B" stroke="#fff" stroke-width="0.9"/>
<text x="142.9" y="506.6" font-size="4.3" fill="#222" font-weight="bold" text-anchor="middle">1%</text>
<path d="M154.72,526.47 A77.8,77.8 0 0 1 101.04,557.58 L96.15,515.27 A35.2,35.2 0 0 0 120.43,501.19 Z" fill="#A8CA33" stroke="#fff" stroke-width="0.9"/>
<text x="120.4" y="530.8" font-size="4.3" fill="#222" font-weight="bold" text-anchor="middle">2%</text>
<path d="M101.04,557.58 A77.8,77.8 0 0 1 74.33,556.04 L84.06,514.57 A35.2,35.2 0 0 0 96.15,515.27 Z" fill="#FCD200" stroke="#fff" stroke-width="0.9"/>
<text x="88.8" y="538.3" font-size="4.3" fill="#222" font-weight="bold" text-anchor="middle">1%</text>
<path d="M74.33,556.04 A77.8,77.8 0 0 1 65.75,553.50 L80.18,513.42 A35.2,35.2 0 0 0 84.06,514.57 Z" fill="#F5A31A" stroke="#fff" stroke-width="0.9"/>
<path d="M65.75,553.50 A77.8,77.8 0 0 1 48.59,544.80 L72.42,509.48 A35.2,35.2 0 0 0 80.18,513.42 Z" fill="#EC7A0B" stroke="#fff" stroke-width="0.9"/>
<text x="66.5" y="532.3" font-size="4.3" fill="#222" font-weight="bold" text-anchor="middle">1%</text>
<path d="M48.59,544.80 A77.8,77.8 0 0 1 41.68,539.55 L69.29,507.11 A35.2,35.2 0 0 0 72.42,509.48 Z" fill="#C5181B" stroke="#fff" stroke-width="0.9"/>
<path d="M41.68,539.55 A77.8,77.8 0 0 1 35.67,533.85 L66.57,504.53 A35.2,35.2 0 0 0 69.29,507.11 Z" fill="#8F2C0E" stroke="#fff" stroke-width="0.9"/>
<path d="M35.67,533.85 A77.8,77.8 0 0 1 29.48,526.47 L63.77,501.19 A35.2,35.2 0 0 0 66.57,504.53 Z" fill="#6A2A12" stroke="#fff" stroke-width="0.9"/>
<path d="M29.48,526.47 A77.8,77.8 0 0 1 20.07,509.70 L59.51,493.60 A35.2,35.2 0 0 0 63.77,501.19 Z" fill="#5B2B1B" stroke="#fff" stroke-width="0.9"/>
<text x="42.8" y="509.6" font-size="4.3" fill="#fff" font-weight="bold" text-anchor="middle">1%</text>
<path d="M20.07,509.70 A77.8,77.8 0 0 1 17.09,500.96 L58.16,489.65 A35.2,35.2 0 0 0 59.51,493.60 Z" fill="#8C2745" stroke="#fff" stroke-width="0.9"/>
<text x="38.6" y="500.1" font-size="4.3" fill="#fff" font-weight="bold" text-anchor="middle">0%</text>
<path d="M17.09,500.96 A77.8,77.8 0 0 1 14.43,484.78 L56.96,482.33 A35.2,35.2 0 0 0 58.16,489.65 Z" fill="#B3246A" stroke="#fff" stroke-width="0.9"/>
<text x="36.4" y="491.1" font-size="4.3" fill="#fff" font-weight="bold" text-anchor="middle">1%</text>
<path d="M14.43,484.78 A77.8,77.8 0 0 1 24.72,441.40 L61.62,462.70 A35.2,35.2 0 0 0 56.96,482.33 Z" fill="#D43DB4" stroke="#fff" stroke-width="0.9"/>
<text x="37.1" y="468.9" font-size="4.3" fill="#fff" font-weight="bold" text-anchor="middle">2%</text>
<path d="M24.72,441.40 A77.8,77.8 0 0 1 29.48,434.13 L63.77,459.41 A35.2,35.2 0 0 0 61.62,462.70 Z" fill="#5D1C4D" stroke="#fff" stroke-width="0.9"/>
<path d="M29.48,434.13 A77.8,77.8 0 0 1 35.67,426.75 L66.57,456.07 A35.2,35.2 0 0 0 63.77,459.41 Z" fill="#6B4B83" stroke="#fff" stroke-width="0.9"/>
<path d="M35.67,426.75 A77.8,77.8 0 0 1 83.16,403.02 L88.05,445.33 A35.2,35.2 0 0 0 66.57,456.07 Z" fill="#6E70A1" stroke="#fff" stroke-width="0.9"/>
<text x="66.8" y="431.4" font-size="4.3" fill="#fff" font-weight="bold" text-anchor="middle">2%</text>
<path d="M83.16,403.02 A77.8,77.8 0 0 1 92.10,402.50 L92.10,445.10 A35.2,35.2 0 0 0 88.05,445.33 Z" fill="#8F9398" stroke="#fff" stroke-width="0.9"/>
<text x="88.8" y="425.5" font-size="4.3" fill="#333" font-weight="bold" text-anchor="middle">0%</text>
</g>
<text x="92.1" y="485.6" font-size="15.5" fill="#111" font-weight="bold" text-anchor="middle" textLength="28.6" lengthAdjust="spacingAndGlyphs">300</text>
<path d="M203.32,455.18 A25.0,25.0 0 1 1 238.68,455.18" fill="none" stroke="#044D6C" stroke-width="8.799999999999997"/>
<line x1="199.79" y1="458.71" x2="198.66" y2="459.84" stroke="#999" stroke-width="0.5"/>
<text x="195.5" y="462.8" font-size="5" fill="#444" text-anchor="middle">0</text>
<line x1="192.47" y1="446.77" x2="190.95" y2="447.26" stroke="#999" stroke-width="0.5"/>
<text x="186.8" y="449.5" font-size="5" fill="#444" text-anchor="middle">21</text>
<line x1="191.37" y1="432.81" x2="189.79" y2="432.56" stroke="#999" stroke-width="0.5"/>
<text x="185.4" y="433.9" font-size="5" fill="#444" text-anchor="middle">42</text>
<line x1="196.73" y1="419.87" x2="195.44" y2="418.93" stroke="#999" stroke-width="0.5"/>
<text x="191.9" y="419.4" font-size="5" fill="#444" text-anchor="middle">63</text>
<line x1="207.38" y1="410.77" x2="206.65" y2="409.34" stroke="#999" stroke-width="0.5"/>
<text x="204.7" y="409.3" font-size="5" fill="#444" text-anchor="middle">84</text>
<line x1="221.00" y1="407.50" x2="221.00" y2="405.90" stroke="#999" stroke-width="0.5"/>
<text x="221.0" y="405.6" font-size="5" fill="#444" text-anchor="middle">105</text>
<line x1="234.62" y1="410.77" x2="235.35" y2="409.34" stroke="#999" stroke-width="0.5"/>
<text x="237.3" y="409.3" font-size="5" fill="#444" text-anchor="middle">126</text>
<line x1="245.27" y1="419.87" x2="246.56" y2="418.93" stroke="#999" stroke-width="0.5"/>
<text x="250.1" y="419.4" font-size="5" fill="#444" text-anchor="middle">147</text>
<line x1="250.63" y1="432.81" x2="252.21" y2="432.56" stroke="#999" stroke-width="0.5"/>
<text x="256.6" y="433.9" font-size="5" fill="#444" text-anchor="middle">168</text>
<line x1="249.53" y1="446.77" x2="251.05" y2="447.26" stroke="#999" stroke-width="0.5"/>
<text x="255.2" y="449.5" font-size="5" fill="#444" text-anchor="middle">189</text>
<line x1="242.21" y1="458.71" x2="243.34" y2="459.84" stroke="#999" stroke-width="0.5"/>
<text x="246.5" y="462.8" font-size="5" fill="#444" text-anchor="middle">210</text>
<line x1="208.47" y1="442.53" x2="193.62" y2="448.48" stroke="#1b1f24" stroke-width="1.1"/>
<path d="M292.62,455.18 A25.0,25.0 0 1 1 327.98,455.18" fill="none" stroke="#044D6C" stroke-width="8.799999999999997"/>
<line x1="289.09" y1="458.71" x2="287.96" y2="459.84" stroke="#999" stroke-width="0.5"/>
<text x="284.8" y="462.8" font-size="5" fill="#444" text-anchor="middle">0</text>
<line x1="281.77" y1="446.77" x2="280.25" y2="447.26" stroke="#999" stroke-width="0.5"/>
<text x="276.1" y="449.5" font-size="5" fill="#444" text-anchor="middle">21</text>
<line x1="280.67" y1="432.81" x2="279.09" y2="432.56" stroke="#999" stroke-width="0.5"/>
<text x="274.7" y="433.9" font-size="5" fill="#444" text-anchor="middle">42</text>
<line x1="286.03" y1="419.87" x2="284.74" y2="418.93" stroke="#999" stroke-width="0.5"/>
<text x="281.2" y="419.4" font-size="5" fill="#444" text-anchor="middle">63</text>
<line x1="296.68" y1="410.77" x2="295.95" y2="409.34" stroke="#999" stroke-width="0.5"/>
<text x="294.0" y="409.3" font-size="5" fill="#444" text-anchor="middle">84</text>
<line x1="310.30" y1="407.50" x2="310.30" y2="405.90" stroke="#999" stroke-width="0.5"/>
<text x="310.3" y="405.6" font-size="5" fill="#444" text-anchor="middle">105</text>
<line x1="323.92" y1="410.77" x2="324.65" y2="409.34" stroke="#999" stroke-width="0.5"/>
<text x="326.6" y="409.3" font-size="5" fill="#444" text-anchor="middle">126</text>
<line x1="334.57" y1="419.87" x2="335.86" y2="418.93" stroke="#999" stroke-width="0.5"/>
<text x="339.4" y="419.4" font-size="5" fill="#444" text-anchor="middle">147</text>
<line x1="339.93" y1="432.81" x2="341.51" y2="432.56" stroke="#999" stroke-width="0.5"/>
<text x="345.9" y="433.9" font-size="5" fill="#444" text-anchor="middle">168</text>
<line x1="338.83" y1="446.77" x2="340.35" y2="447.26" stroke="#999" stroke-width="0.5"/>
<text x="344.5" y="449.5" font-size="5" fill="#444" text-anchor="middle">189</text>
<line x1="331.51" y1="458.71" x2="332.64" y2="459.84" stroke="#999" stroke-width="0.5"/>
<text x="335.8" y="462.8" font-size="5" fill="#444" text-anchor="middle">210</text>
<line x1="299.75" y1="445.92" x2="287.24" y2="455.89" stroke="#1b1f24" stroke-width="1.1"/>
<path d="M203.42,547.68 A25.0,25.0 0 1 1 238.78,547.68" fill="none" stroke="#044D6C" stroke-width="8.799999999999997"/>
<line x1="199.89" y1="551.21" x2="198.76" y2="552.34" stroke="#999" stroke-width="0.5"/>
<text x="195.6" y="555.3" font-size="5" fill="#444" text-anchor="middle">0</text>
<line x1="192.57" y1="539.27" x2="191.05" y2="539.76" stroke="#999" stroke-width="0.5"/>
<text x="186.9" y="542.0" font-size="5" fill="#444" text-anchor="middle">21</text>
<line x1="191.47" y1="525.31" x2="189.89" y2="525.06" stroke="#999" stroke-width="0.5"/>
<text x="185.5" y="526.4" font-size="5" fill="#444" text-anchor="middle">42</text>
<line x1="196.83" y1="512.37" x2="195.54" y2="511.43" stroke="#999" stroke-width="0.5"/>
<text x="192.0" y="511.9" font-size="5" fill="#444" text-anchor="middle">63</text>
<line x1="207.48" y1="503.27" x2="206.75" y2="501.84" stroke="#999" stroke-width="0.5"/>
<text x="204.8" y="501.8" font-size="5" fill="#444" text-anchor="middle">84</text>
<line x1="221.10" y1="500.00" x2="221.10" y2="498.40" stroke="#999" stroke-width="0.5"/>
<text x="221.1" y="498.1" font-size="5" fill="#444" text-anchor="middle">105</text>
<line x1="234.72" y1="503.27" x2="235.45" y2="501.84" stroke="#999" stroke-width="0.5"/>
<text x="237.4" y="501.8" font-size="5" fill="#444" text-anchor="middle">126</text>
<line x1="245.37" y1="512.37" x2="246.66" y2="511.43" stroke="#999" stroke-width="0.5"/>
<text x="250.2" y="511.9" font-size="5" fill="#444" text-anchor="middle">147</text>
<line x1="250.73" y1="525.31" x2="252.31" y2="525.06" stroke="#999" stroke-width="0.5"/>
<text x="256.7" y="526.4" font-size="5" fill="#444" text-anchor="middle">168</text>
<line x1="249.63" y1="539.27" x2="251.15" y2="539.76" stroke="#999" stroke-width="0.5"/>
<text x="255.3" y="542.0" font-size="5" fill="#444" text-anchor="middle">189</text>
<line x1="242.31" y1="551.21" x2="243.44" y2="552.34" stroke="#999" stroke-width="0.5"/>
<text x="246.6" y="555.3" font-size="5" fill="#444" text-anchor="middle">210</text>
<line x1="219.89" y1="516.55" x2="218.46" y2="500.62" stroke="#1b1f24" stroke-width="1.1"/>
<path d="M292.82,547.68 A25.0,25.0 0 1 1 328.18,547.68" fill="none" stroke="#044D6C" stroke-width="8.799999999999997"/>
<line x1="289.29" y1="551.21" x2="288.16" y2="552.34" stroke="#999" stroke-width="0.5"/>
<text x="285.0" y="555.3" font-size="5" fill="#444" text-anchor="middle">0</text>
<line x1="281.97" y1="539.27" x2="280.45" y2="539.76" stroke="#999" stroke-width="0.5"/>
<text x="276.3" y="542.0" font-size="5" fill="#444" text-anchor="middle">21</text>
<line x1="280.87" y1="525.31" x2="279.29" y2="525.06" stroke="#999" stroke-width="0.5"/>
<text x="274.9" y="526.4" font-size="5" fill="#444" text-anchor="middle">42</text>
<line x1="286.23" y1="512.37" x2="284.94" y2="511.43" stroke="#999" stroke-width="0.5"/>
<text x="281.4" y="511.9" font-size="5" fill="#444" text-anchor="middle">63</text>
<line x1="296.88" y1="503.27" x2="296.15" y2="501.84" stroke="#999" stroke-width="0.5"/>
<text x="294.2" y="501.8" font-size="5" fill="#444" text-anchor="middle">84</text>
<line x1="310.50" y1="500.00" x2="310.50" y2="498.40" stroke="#999" stroke-width="0.5"/>
<text x="310.5" y="498.1" font-size="5" fill="#444" text-anchor="middle">105</text>
<line x1="324.12" y1="503.27" x2="324.85" y2="501.84" stroke="#999" stroke-width="0.5"/>
<text x="326.8" y="501.8" font-size="5" fill="#444" text-anchor="middle">126</text>
<line x1="334.77" y1="512.37" x2="336.06" y2="511.43" stroke="#999" stroke-width="0.5"/>
<text x="339.6" y="511.9" font-size="5" fill="#444" text-anchor="middle">147</text>
<line x1="340.13" y1="525.31" x2="341.71" y2="525.06" stroke="#999" stroke-width="0.5"/>
<text x="346.1" y="526.4" font-size="5" fill="#444" text-anchor="middle">168</text>
<line x1="339.03" y1="539.27" x2="340.55" y2="539.76" stroke="#999" stroke-width="0.5"/>
<text x="344.7" y="542.0" font-size="5" fill="#444" text-anchor="middle">189</text>
<line x1="331.71" y1="551.21" x2="332.84" y2="552.34" stroke="#999" stroke-width="0.5"/>
<text x="336.0" y="555.3" font-size="5" fill="#444" text-anchor="middle">210</text>
<line x1="297.03" y1="529.09" x2="281.07" y2="528.02" stroke="#1b1f24" stroke-width="1.1"/>
<text x="221.0" y="444.2" font-size="12.5" fill="#1b1f24" font-weight="bold" text-anchor="middle" textLength="12.1" lengthAdjust="spacingAndGlyphs">18</text>
<text x="310.3" y="444.2" font-size="12.5" fill="#1b1f24" font-weight="bold" text-anchor="middle" textLength="6.2" lengthAdjust="spacingAndGlyphs">5</text>
<text x="221.1" y="536.2" font-size="12.5" fill="#1b1f24" font-weight="bold" text-anchor="middle" textLength="17.5" lengthAdjust="spacingAndGlyphs">101</text>
<text x="310.5" y="536.2" font-size="12.5" fill="#1b1f24" font-weight="bold" text-anchor="middle" textLength="12.2" lengthAdjust="spacingAndGlyphs">38</text>
<text x="199.5" y="472.3" font-size="4.8" fill="#777" font-weight="normal" text-anchor="start" textLength="43.0" lengthAdjust="spacingAndGlyphs">Application (Nombre)</text>
<text x="288.8" y="472.3" font-size="4.8" fill="#777" font-weight="normal" text-anchor="start" textLength="43.0" lengthAdjust="spacingAndGlyphs">Application (Nombre)</text>
<text x="181.4" y="484.0" font-size="3.6" fill="#334" font-weight="bold" text-anchor="start" textLength="9.0" lengthAdjust="spacingAndGlyphs">5 Etoile</text>
<text x="270.9" y="484.0" font-size="3.6" fill="#334" font-weight="bold" text-anchor="start" textLength="10.0" lengthAdjust="spacingAndGlyphs">4 Etoiles</text>
<rect x="360.9" y="400.8" width="221.39999999999998" height="14.6" fill="#1F3150"/>
<line x1="403.6" y1="400.8" x2="403.6" y2="415.4" stroke="#8a94a6" stroke-width="0.6"/>
<line x1="432.5" y1="400.8" x2="432.5" y2="415.4" stroke="#8a94a6" stroke-width="0.6"/>
<line x1="477.5" y1="400.8" x2="477.5" y2="415.4" stroke="#8a94a6" stroke-width="0.6"/>
<line x1="517.7" y1="400.8" x2="517.7" y2="415.4" stroke="#8a94a6" stroke-width="0.6"/>
<line x1="545.9" y1="400.8" x2="545.9" y2="415.4" stroke="#8a94a6" stroke-width="0.6"/>
<text x="371.0" y="408.0" font-size="4.4" fill="#fff" font-weight="normal" text-anchor="start" textLength="21.9" lengthAdjust="spacingAndGlyphs">Application</text>
<text x="407.7" y="408.0" font-size="4.4" fill="#fff" font-weight="normal" text-anchor="start" textLength="20.3" lengthAdjust="spacingAndGlyphs">Evaluation</text>
<text x="442.1" y="408.0" font-size="4.4" fill="#fff" font-weight="normal" text-anchor="start" textLength="25.7" lengthAdjust="spacingAndGlyphs">Technologies</text>
<text x="486.0" y="408.0" font-size="4.4" fill="#fff" font-weight="normal" text-anchor="start" textLength="23.0" lengthAdjust="spacingAndGlyphs">Fournisseur</text>
<text x="526.9" y="408.0" font-size="4.4" fill="#fff" font-weight="normal" text-anchor="start" textLength="9.6" lengthAdjust="spacingAndGlyphs">Coût</text>
<text x="555.9" y="407.4" font-size="4.4" fill="#fff" font-weight="normal" text-anchor="start" textLength="16.2" lengthAdjust="spacingAndGlyphs">Nombre</text>
<text x="551.8" y="411.9" font-size="4.4" fill="#fff" font-weight="normal" text-anchor="start" textLength="24.7" lengthAdjust="spacingAndGlyphs">d’utilisateurs</text>
<rect x="360.9" y="415.4" width="221.39999999999998" height="142.4" fill="#EEF1F5"/>
<rect x="432.5" y="415.4" width="149.79999999999995" height="20.0" fill="#F4F6F9"/>
<line x1="432.5" y1="435.4" x2="582.3" y2="435.4" stroke="#fff" stroke-width="0.8"/>
<line x1="432.5" y1="451.2" x2="582.3" y2="451.2" stroke="#fff" stroke-width="0.8"/>
<rect x="432.5" y="451.2" width="149.79999999999995" height="15.800000000000011" fill="#F4F6F9"/>
<line x1="432.5" y1="467" x2="582.3" y2="467" stroke="#fff" stroke-width="0.8"/>
<line x1="432.5" y1="482.6" x2="582.3" y2="482.6" stroke="#fff" stroke-width="0.8"/>
<rect x="432.5" y="482.6" width="149.79999999999995" height="15.199999999999989" fill="#F4F6F9"/>
<line x1="432.5" y1="497.8" x2="582.3" y2="497.8" stroke="#fff" stroke-width="0.8"/>
<line x1="432.5" y1="513" x2="582.3" y2="513" stroke="#fff" stroke-width="0.8"/>
<rect x="432.5" y="513" width="149.79999999999995" height="15.200000000000045" fill="#F4F6F9"/>
<line x1="432.5" y1="528.2" x2="582.3" y2="528.2" stroke="#fff" stroke-width="0.8"/>
<line x1="432.5" y1="543.4" x2="582.3" y2="543.4" stroke="#fff" stroke-width="0.8"/>
<rect x="432.5" y="543.4" width="149.79999999999995" height="14.399999999999977" fill="#F4F6F9"/>
<line x1="432.5" y1="557.8" x2="582.3" y2="557.8" stroke="#fff" stroke-width="0.8"/>
<line x1="360.9" y1="482.6" x2="582.3" y2="482.6" stroke="#fff" stroke-width="1"/>
<line x1="403.6" y1="415.4" x2="403.6" y2="557.8" stroke="#fff" stroke-width="0.8"/>
<line x1="432.5" y1="415.4" x2="432.5" y2="557.8" stroke="#fff" stroke-width="0.8"/>
<line x1="477.5" y1="415.4" x2="477.5" y2="557.8" stroke="#fff" stroke-width="0.8"/>
<line x1="517.7" y1="415.4" x2="517.7" y2="557.8" stroke="#fff" stroke-width="0.8"/>
<line x1="545.9" y1="415.4" x2="545.9" y2="557.8" stroke="#fff" stroke-width="0.8"/>
<rect x="434.5" y="421.84999999999997" width="4.6" height="2.3" fill="#F03030"/><rect x="435.8" y="421.84999999999997" width="1.1" height="1.2" fill="#1DA83A"/><rect x="435.8" y="422.95" width="1.1" height="1.2" fill="#F2A900"/><rect x="434.5" y="422.95" width="1.3" height="3.5" fill="#2F8EF0"/><rect x="435.8" y="424.15" width="1.1" height="2.3" fill="#3A95F2"/><rect x="436.9" y="424.15" width="2.2" height="2.3" fill="#7E9CBA"/>
<text x="440.5" y="425.6" font-size="4.3" fill="#6b7480" font-weight="normal" text-anchor="start">* Apache log4j</text>
<text x="434.3" y="429.9" font-size="4.3" fill="#6b7480" font-weight="normal" text-anchor="start">v2.17 (EN)</text>
<circle cx="481.8" cy="421.09999999999997" r="2.5" fill="#1AA3B8"/>
<text x="481.8" y="422.6" font-size="3.2" fill="#fff" font-weight="bold" text-anchor="middle">$</text>
<text x="485.4" y="422.9" font-size="4.3" fill="#6b7480" font-weight="normal" text-anchor="start">The Apache</text>
<text x="479.5" y="427.5" font-size="4.3" fill="#6b7480" font-weight="normal" text-anchor="start">Software</text>
<text x="479.5" y="432.1" font-size="4.3" fill="#6b7480" font-weight="normal" text-anchor="start">Foundation (EN)</text>
<text x="544.5" y="424.8" font-size="4.3" fill="#6b7480" font-weight="normal" text-anchor="end">324 000,00</text>
<text x="544.5" y="429.4" font-size="4.3" fill="#6b7480" font-weight="normal" text-anchor="end">€</text>
<text x="580.8" y="427.0" font-size="4.3" fill="#6b7480" font-weight="normal" text-anchor="end">0</text>
<rect x="434.5" y="439.74999999999994" width="4.6" height="2.3" fill="#F03030"/><rect x="435.8" y="439.74999999999994" width="1.1" height="1.2" fill="#1DA83A"/><rect x="435.8" y="440.84999999999997" width="1.1" height="1.2" fill="#F2A900"/><rect x="434.5" y="440.84999999999997" width="1.3" height="3.5" fill="#2F8EF0"/><rect x="435.8" y="442.04999999999995" width="1.1" height="2.3" fill="#3A95F2"/><rect x="436.9" y="442.04999999999995" width="2.2" height="2.3" fill="#7E9CBA"/>
<text x="440.5" y="443.5" font-size="4.3" fill="#6b7480" font-weight="normal" text-anchor="start">.NET Framework</text>
<text x="434.3" y="447.8" font-size="4.3" fill="#6b7480" font-weight="normal" text-anchor="start">4.8 (EN)</text>
<circle cx="481.8" cy="443.59999999999997" r="2.5" fill="#1AA3B8"/>
<text x="481.8" y="445.1" font-size="3.2" fill="#fff" font-weight="bold" text-anchor="middle">$</text>
<text x="485.4" y="445.4" font-size="4.3" fill="#6b7480" font-weight="normal" text-anchor="start">Microsoft</text>
<text x="544.5" y="442.7" font-size="4.3" fill="#6b7480" font-weight="normal" text-anchor="end">324 000,00</text>
<text x="544.5" y="447.3" font-size="4.3" fill="#6b7480" font-weight="normal" text-anchor="end">€</text>
<text x="580.8" y="444.9" font-size="4.3" fill="#6b7480" font-weight="normal" text-anchor="end">0</text>
<rect x="434.5" y="455.55" width="4.6" height="2.3" fill="#F03030"/><rect x="435.8" y="455.55" width="1.1" height="1.2" fill="#1DA83A"/><rect x="435.8" y="456.65000000000003" width="1.1" height="1.2" fill="#F2A900"/><rect x="434.5" y="456.65000000000003" width="1.3" height="3.5" fill="#2F8EF0"/><rect x="435.8" y="457.85" width="1.1" height="2.3" fill="#3A95F2"/><rect x="436.9" y="457.85" width="2.2" height="2.3" fill="#7E9CBA"/>
<text x="440.5" y="459.4" font-size="4.3" fill="#6b7480" font-weight="normal" text-anchor="start">Application Load</text>
<text x="434.3" y="463.7" font-size="4.3" fill="#6b7480" font-weight="normal" text-anchor="start">Balancer (EN)</text>
<circle cx="481.8" cy="457.1" r="2.5" fill="#1AA3B8"/>
<text x="481.8" y="458.6" font-size="3.2" fill="#fff" font-weight="bold" text-anchor="middle">$</text>
<text x="485.4" y="458.9" font-size="4.3" fill="#6b7480" font-weight="normal" text-anchor="start">Amazon Web</text>
<text x="479.5" y="463.5" font-size="4.3" fill="#6b7480" font-weight="normal" text-anchor="start">Services</text>
<text x="544.5" y="458.5" font-size="4.3" fill="#6b7480" font-weight="normal" text-anchor="end">324 000,00</text>
<text x="544.5" y="463.1" font-size="4.3" fill="#6b7480" font-weight="normal" text-anchor="end">€</text>
<text x="580.8" y="460.7" font-size="4.3" fill="#6b7480" font-weight="normal" text-anchor="end">0</text>
<rect x="434.5" y="471.25" width="4.6" height="2.3" fill="#F03030"/><rect x="435.8" y="471.25" width="1.1" height="1.2" fill="#1DA83A"/><rect x="435.8" y="472.35" width="1.1" height="1.2" fill="#F2A900"/><rect x="434.5" y="472.35" width="1.3" height="3.5" fill="#2F8EF0"/><rect x="435.8" y="473.55" width="1.1" height="2.3" fill="#3A95F2"/><rect x="436.9" y="473.55" width="2.2" height="2.3" fill="#7E9CBA"/>
<text x="440.5" y="475.1" font-size="4.3" fill="#6b7480" font-weight="normal" text-anchor="start">SQL Server -</text>
<text x="434.3" y="479.4" font-size="4.3" fill="#6b7480" font-weight="normal" text-anchor="start">Enterprise - 15.0 (EN)</text>
<circle cx="481.8" cy="475.1" r="2.5" fill="#1AA3B8"/>
<text x="481.8" y="476.6" font-size="3.2" fill="#fff" font-weight="bold" text-anchor="middle">$</text>
<text x="485.4" y="476.9" font-size="4.3" fill="#6b7480" font-weight="normal" text-anchor="start">Microsoft</text>
<text x="544.5" y="474.2" font-size="4.3" fill="#6b7480" font-weight="normal" text-anchor="end">324 000,00</text>
<text x="544.5" y="478.8" font-size="4.3" fill="#6b7480" font-weight="normal" text-anchor="end">€</text>
<text x="580.8" y="476.4" font-size="4.3" fill="#6b7480" font-weight="normal" text-anchor="end">0</text>
<rect x="434.5" y="486.65000000000003" width="4.6" height="2.3" fill="#F03030"/><rect x="435.8" y="486.65000000000003" width="1.1" height="1.2" fill="#1DA83A"/><rect x="435.8" y="487.75000000000006" width="1.1" height="1.2" fill="#F2A900"/><rect x="434.5" y="487.75000000000006" width="1.3" height="3.5" fill="#2F8EF0"/><rect x="435.8" y="488.95000000000005" width="1.1" height="2.3" fill="#3A95F2"/><rect x="436.9" y="488.95000000000005" width="2.2" height="2.3" fill="#7E9CBA"/>
<text x="440.5" y="490.5" font-size="4.3" fill="#6b7480" font-weight="normal" text-anchor="start">.NET Framework</text>
<text x="434.3" y="494.8" font-size="4.3" fill="#6b7480" font-weight="normal" text-anchor="start">4.8 (EN)</text>
<circle cx="481.8" cy="490.50000000000006" r="2.5" fill="#1AA3B8"/>
<text x="481.8" y="492.0" font-size="3.2" fill="#fff" font-weight="bold" text-anchor="middle">$</text>
<text x="485.4" y="492.3" font-size="4.3" fill="#6b7480" font-weight="normal" text-anchor="start">Microsoft</text>
<text x="544.5" y="489.6" font-size="4.3" fill="#6b7480" font-weight="normal" text-anchor="end">1 620 000,00</text>
<text x="544.5" y="494.2" font-size="4.3" fill="#6b7480" font-weight="normal" text-anchor="end">€</text>
<text x="580.8" y="491.8" font-size="4.3" fill="#6b7480" font-weight="normal" text-anchor="end">3000</text>
<rect x="434.5" y="503.99999999999994" width="4.6" height="2.3" fill="#F03030"/><rect x="435.8" y="503.99999999999994" width="1.1" height="1.2" fill="#1DA83A"/><rect x="435.8" y="505.09999999999997" width="1.1" height="1.2" fill="#F2A900"/><rect x="434.5" y="505.09999999999997" width="1.3" height="3.5" fill="#2F8EF0"/><rect x="435.8" y="506.29999999999995" width="1.1" height="2.3" fill="#3A95F2"/><rect x="436.9" y="506.29999999999995" width="2.2" height="2.3" fill="#7E9CBA"/>
<text x="440.5" y="507.8" font-size="4.3" fill="#6b7480" font-weight="normal" text-anchor="start">ASP.NET 4.5</text>
<circle cx="481.8" cy="505.7" r="2.5" fill="#1AA3B8"/>
<text x="481.8" y="507.2" font-size="3.2" fill="#fff" font-weight="bold" text-anchor="middle">$</text>
<text x="485.4" y="507.5" font-size="4.3" fill="#6b7480" font-weight="normal" text-anchor="start">Microsoft</text>
<text x="544.5" y="504.8" font-size="4.3" fill="#6b7480" font-weight="normal" text-anchor="end">1 620 000,00</text>
<text x="544.5" y="509.4" font-size="4.3" fill="#6b7480" font-weight="normal" text-anchor="end">€</text>
<text x="580.8" y="507.0" font-size="4.3" fill="#6b7480" font-weight="normal" text-anchor="end">3000</text>
<rect x="434.5" y="519.2" width="4.6" height="2.3" fill="#F03030"/><rect x="435.8" y="519.2" width="1.1" height="1.2" fill="#1DA83A"/><rect x="435.8" y="520.3000000000001" width="1.1" height="1.2" fill="#F2A900"/><rect x="434.5" y="520.3000000000001" width="1.3" height="3.5" fill="#2F8EF0"/><rect x="435.8" y="521.5" width="1.1" height="2.3" fill="#3A95F2"/><rect x="436.9" y="521.5" width="2.2" height="2.3" fill="#7E9CBA"/>
<text x="440.5" y="523.0" font-size="4.3" fill="#6b7480" font-weight="normal" text-anchor="start">JAVA SE 11 (EN)</text>
<circle cx="481.8" cy="520.9000000000001" r="2.5" fill="#1AA3B8"/>
<text x="481.8" y="522.4" font-size="3.2" fill="#fff" font-weight="bold" text-anchor="middle">$</text>
<text x="485.4" y="522.7" font-size="4.3" fill="#6b7480" font-weight="normal" text-anchor="start">Oracle</text>
<text x="544.5" y="520.0" font-size="4.3" fill="#6b7480" font-weight="normal" text-anchor="end">1 620 000,00</text>
<text x="544.5" y="524.6" font-size="4.3" fill="#6b7480" font-weight="normal" text-anchor="end">€</text>
<text x="580.8" y="522.2" font-size="4.3" fill="#6b7480" font-weight="normal" text-anchor="end">3000</text>
<rect x="434.5" y="534.4" width="4.6" height="2.3" fill="#F03030"/><rect x="435.8" y="534.4" width="1.1" height="1.2" fill="#1DA83A"/><rect x="435.8" y="535.5" width="1.1" height="1.2" fill="#F2A900"/><rect x="434.5" y="535.5" width="1.3" height="3.5" fill="#2F8EF0"/><rect x="435.8" y="536.6999999999999" width="1.1" height="2.3" fill="#3A95F2"/><rect x="436.9" y="536.6999999999999" width="2.2" height="2.3" fill="#7E9CBA"/>
<text x="440.5" y="538.2" font-size="4.3" fill="#6b7480" font-weight="normal" text-anchor="start">Mobile SDK (EN)</text>
<circle cx="481.8" cy="533.8000000000001" r="2.5" fill="#1AA3B8"/>
<text x="481.8" y="535.3" font-size="3.2" fill="#fff" font-weight="bold" text-anchor="middle">$</text>
<text x="485.4" y="535.6" font-size="4.3" fill="#6b7480" font-weight="normal" text-anchor="start">Amazon Web</text>
<text x="479.5" y="540.2" font-size="4.3" fill="#6b7480" font-weight="normal" text-anchor="start">Services</text>
<text x="544.5" y="535.2" font-size="4.3" fill="#6b7480" font-weight="normal" text-anchor="end">1 620 000,00</text>
<text x="544.5" y="539.8" font-size="4.3" fill="#6b7480" font-weight="normal" text-anchor="end">€</text>
<text x="580.8" y="537.4" font-size="4.3" fill="#6b7480" font-weight="normal" text-anchor="end">3000</text>
<rect x="434.5" y="549.1999999999999" width="4.6" height="2.3" fill="#F03030"/><rect x="435.8" y="549.1999999999999" width="1.1" height="1.2" fill="#1DA83A"/><rect x="435.8" y="550.3" width="1.1" height="1.2" fill="#F2A900"/><rect x="434.5" y="550.3" width="1.3" height="3.5" fill="#2F8EF0"/><rect x="435.8" y="551.4999999999999" width="1.1" height="2.3" fill="#3A95F2"/><rect x="436.9" y="551.4999999999999" width="2.2" height="2.3" fill="#7E9CBA"/>
<text x="440.5" y="553.0" font-size="4.3" fill="#6b7480" font-weight="normal" text-anchor="start">Node.js - 14.0 (EN)</text>
<circle cx="481.8" cy="548.6" r="2.5" fill="#1AA3B8"/>
<text x="481.8" y="550.1" font-size="3.2" fill="#fff" font-weight="bold" text-anchor="middle">$</text>
<text x="485.4" y="550.4" font-size="4.3" fill="#6b7480" font-weight="normal" text-anchor="start">Node.js</text>
<text x="479.5" y="555.0" font-size="4.3" fill="#6b7480" font-weight="normal" text-anchor="start">Foundation</text>
<text x="544.5" y="550.0" font-size="4.3" fill="#6b7480" font-weight="normal" text-anchor="end">1 620 000,00</text>
<text x="544.5" y="554.6" font-size="4.3" fill="#6b7480" font-weight="normal" text-anchor="end">€</text>
<text x="580.8" y="552.2" font-size="4.3" fill="#6b7480" font-weight="normal" text-anchor="end">3000</text>
<path d="M362.6,449 V446.4 H364.20000000000005 V445.2 H365.8 V444 H367.6 V449 Z" fill="#1E8F4E"/>
<text x="369.0" y="448.6" font-size="4.2" fill="#6b7480" font-weight="normal" text-anchor="start">*</text>
<text x="362.6" y="453.0" font-size="4.2" fill="#6b7480" font-weight="normal" text-anchor="start" textLength="33.0" lengthAdjust="spacingAndGlyphs">AirportMega.com</text>
<polygon points="407.30,447.20 407.91,448.66 409.49,448.79 408.28,449.82 408.65,451.36 407.30,450.54 405.95,451.36 406.32,449.82 405.11,448.79 406.69,448.66" fill="#1AA3B8"/>
<text x="411.1" y="451.0" font-size="4.2" fill="#6b7480" font-weight="normal" text-anchor="start" textLength="15.4" lengthAdjust="spacingAndGlyphs">3 Etoiles</text>
<path d="M362.6,520.9 V518.3 H364.20000000000005 V517.1 H365.8 V515.9 H367.6 V520.9 Z" fill="#1E8F4E"/>
<text x="368.7" y="520.2" font-size="4.2" fill="#6b7480" font-weight="normal" text-anchor="start" textLength="26.4" lengthAdjust="spacingAndGlyphs">* MEGA BANK</text>
<text x="362.6" y="524.8" font-size="4.2" fill="#6b7480" font-weight="normal" text-anchor="start" textLength="30.9" lengthAdjust="spacingAndGlyphs">Mobile App (EN)</text>
<polygon points="407.30,518.50 407.91,519.96 409.49,520.09 408.28,521.12 408.65,522.66 407.30,521.83 405.95,522.66 406.32,521.12 405.11,520.09 406.69,519.96" fill="#1AA3B8"/>
<text x="411.1" y="522.3" font-size="4.2" fill="#6b7480" font-weight="normal" text-anchor="start" textLength="15.4" lengthAdjust="spacingAndGlyphs">5 Etoiles</text>
<rect x="360.4" y="400.3" width="222.4" height="158" fill="none" stroke="#3A4860" stroke-width="0.9"/>
<line x1="640.7" y1="439.8" x2="640.7" y2="540.4" stroke="#E2E2E2" stroke-width="0.6"/>
<line x1="654.7" y1="439.8" x2="654.7" y2="540.4" stroke="#E2E2E2" stroke-width="0.6"/>
<line x1="668.6" y1="439.8" x2="668.6" y2="540.4" stroke="#E2E2E2" stroke-width="0.6"/>
<line x1="682.6" y1="439.8" x2="682.6" y2="540.4" stroke="#E2E2E2" stroke-width="0.6"/>
<line x1="696.6" y1="439.8" x2="696.6" y2="540.4" stroke="#E2E2E2" stroke-width="0.6"/>
<line x1="710.6" y1="439.8" x2="710.6" y2="540.4" stroke="#E2E2E2" stroke-width="0.6"/>
<line x1="724.6" y1="439.8" x2="724.6" y2="540.4" stroke="#E2E2E2" stroke-width="0.6"/>
<line x1="738.5" y1="439.8" x2="738.5" y2="540.4" stroke="#E2E2E2" stroke-width="0.6"/>
<line x1="752.5" y1="439.8" x2="752.5" y2="540.4" stroke="#E2E2E2" stroke-width="0.6"/>
<line x1="766.5" y1="439.8" x2="766.5" y2="540.4" stroke="#E2E2E2" stroke-width="0.6"/>
<rect x="626.7" y="441.9" width="41.9" height="13" fill="#044D6C"/>
<line x1="623.8" y1="448.4" x2="626.2" y2="448.4" stroke="#555" stroke-width="0.6"/>
<text x="595.4" y="451.2" font-size="6.8" fill="#6a6a6a" font-weight="normal" text-anchor="start" textLength="23.5" lengthAdjust="spacingAndGlyphs">3 Stars</text>
<rect x="626.7" y="458.8" width="141.2" height="13" fill="#044D6C"/>
<line x1="623.8" y1="465.2" x2="626.2" y2="465.2" stroke="#555" stroke-width="0.6"/>
<text x="595.4" y="468.1" font-size="6.8" fill="#6a6a6a" font-weight="normal" text-anchor="start" textLength="19.5" lengthAdjust="spacingAndGlyphs">0 Star</text>
<rect x="626.7" y="475.6" width="25.2" height="13" fill="#044D6C"/>
<line x1="623.8" y1="482.1" x2="626.2" y2="482.1" stroke="#555" stroke-width="0.6"/>
<text x="595.4" y="484.9" font-size="6.8" fill="#6a6a6a" font-weight="normal" text-anchor="start" textLength="23.5" lengthAdjust="spacingAndGlyphs">5 Stars</text>
<rect x="626.7" y="492.4" width="53.1" height="13" fill="#044D6C"/>
<line x1="623.8" y1="498.9" x2="626.2" y2="498.9" stroke="#555" stroke-width="0.6"/>
<text x="595.4" y="501.8" font-size="6.8" fill="#6a6a6a" font-weight="normal" text-anchor="start" textLength="23.5" lengthAdjust="spacingAndGlyphs">4 Stars</text>
<rect x="626.7" y="509.3" width="7.0" height="13" fill="#044D6C"/>
<line x1="623.8" y1="515.8" x2="626.2" y2="515.8" stroke="#555" stroke-width="0.6"/>
<text x="595.4" y="518.6" font-size="6.8" fill="#6a6a6a" font-weight="normal" text-anchor="start" textLength="18.0" lengthAdjust="spacingAndGlyphs">1 Star</text>
<rect x="626.7" y="526.1" width="25.2" height="13" fill="#044D6C"/>
<line x1="623.8" y1="532.6" x2="626.2" y2="532.6" stroke="#555" stroke-width="0.6"/>
<text x="595.4" y="535.4" font-size="6.8" fill="#6a6a6a" font-weight="normal" text-anchor="start" textLength="23.5" lengthAdjust="spacingAndGlyphs">2 Stars</text>
<line x1="626.2" y1="540.6" x2="772" y2="540.6" stroke="#8a8a8a" stroke-width="1.1"/>
<line x1="626.7" y1="540.4" x2="626.7" y2="542.6" stroke="#444" stroke-width="0.6"/>
<text x="626.7" y="552.6" font-size="6.8" fill="#777" font-weight="normal" text-anchor="middle">0</text>
<line x1="640.7" y1="540.4" x2="640.7" y2="542.6" stroke="#444" stroke-width="0.6"/>
<text x="640.7" y="552.6" font-size="6.8" fill="#777" font-weight="normal" text-anchor="middle">10</text>
<line x1="654.7" y1="540.4" x2="654.7" y2="542.6" stroke="#444" stroke-width="0.6"/>
<text x="654.7" y="552.6" font-size="6.8" fill="#777" font-weight="normal" text-anchor="middle">20</text>
<line x1="668.6" y1="540.4" x2="668.6" y2="542.6" stroke="#444" stroke-width="0.6"/>
<text x="668.6" y="552.6" font-size="6.8" fill="#777" font-weight="normal" text-anchor="middle">30</text>
<line x1="682.6" y1="540.4" x2="682.6" y2="542.6" stroke="#444" stroke-width="0.6"/>
<text x="682.6" y="552.6" font-size="6.8" fill="#777" font-weight="normal" text-anchor="middle">40</text>
<line x1="696.6" y1="540.4" x2="696.6" y2="542.6" stroke="#444" stroke-width="0.6"/>
<text x="696.6" y="552.6" font-size="6.8" fill="#777" font-weight="normal" text-anchor="middle">50</text>
<line x1="710.6" y1="540.4" x2="710.6" y2="542.6" stroke="#444" stroke-width="0.6"/>
<text x="710.6" y="552.6" font-size="6.8" fill="#777" font-weight="normal" text-anchor="middle">60</text>
<line x1="724.6" y1="540.4" x2="724.6" y2="542.6" stroke="#444" stroke-width="0.6"/>
<text x="724.6" y="552.6" font-size="6.8" fill="#777" font-weight="normal" text-anchor="middle">70</text>
<line x1="738.5" y1="540.4" x2="738.5" y2="542.6" stroke="#444" stroke-width="0.6"/>
<text x="738.5" y="552.6" font-size="6.8" fill="#777" font-weight="normal" text-anchor="middle">80</text>
<line x1="752.5" y1="540.4" x2="752.5" y2="542.6" stroke="#444" stroke-width="0.6"/>
<text x="752.5" y="552.6" font-size="6.8" fill="#777" font-weight="normal" text-anchor="middle">90</text>
<line x1="766.5" y1="540.4" x2="766.5" y2="542.6" stroke="#444" stroke-width="0.6"/>
<text x="766.5" y="552.6" font-size="6.8" fill="#777" font-weight="normal" text-anchor="middle">100</text>
<path d="M321.7,309.6 C319.1,308.4 311.5,304.1 306.4,302.6 C301.3,301.1 295.8,300.7 291.1,300.7 C286.4,300.7 282.6,301.4 278.4,302.6 C274.2,303.8 269.9,305.4 265.7,307.7 C261.4,310.0 256.6,313.0 252.9,316.7 C249.2,320.4 245.9,326.2 243.8,330.0 C241.7,333.8 241.2,335.6 240.2,339.7 C239.2,343.8 238.1,350.2 237.7,354.3 C237.3,358.4 237.3,360.8 237.7,364.0 C238.1,367.2 239.2,370.6 240.2,373.8 C241.2,377.1 242.5,380.5 243.8,383.5 C245.1,386.5 247.3,390.6 248.0,392.0 L245.6,396.9 L263.2,394.4 L260.8,375.6 L256.6,381 C255.6,379.6 252.2,375.5 250.5,372.5 C248.8,369.5 247.1,366.2 246.2,362.8 C245.3,359.4 245.1,355.8 245.0,351.9 C244.9,348.0 245.0,343.3 245.6,339.7 C246.2,336.1 247.4,332.5 248.7,330.0 C250.0,327.5 251.3,326.6 253.5,324.5 C255.7,322.4 258.7,319.4 261.8,317.3 C264.9,315.2 268.4,313.3 272.0,312.2 C275.6,311.1 279.9,310.6 283.5,310.5 C287.1,310.4 289.9,310.7 293.7,311.6 C297.5,312.5 302.9,314.6 306.4,316.0 C309.9,317.4 313.3,319.2 314.7,319.8 Z" fill="url(#marr)" stroke="#843C0C" stroke-width="0.7" stroke-linejoin="miter"/>
</svg></body></html>
